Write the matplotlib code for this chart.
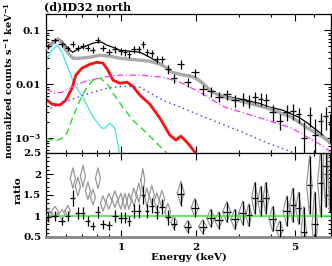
import numpy as np
import matplotlib
matplotlib.use("Agg")
import matplotlib.pyplot as plt
from matplotlib.ticker import FixedLocator, FixedFormatter, LogLocator, MultipleLocator, NullFormatter, FuncFormatter

plt.rcParams['font.family'] = ['DejaVu Serif']
plt.rcParams['font.weight'] = 'bold'
plt.rcParams['mathtext.fontset'] = 'dejavuserif'
plt.rcParams['mathtext.default'] = 'bf'

# data bins (keV), flux, fractional error, ratios
energy = [0.509, 0.543, 0.580, 0.612, 0.641, 0.672, 0.704, 0.737, 0.772, 0.809,
          0.847, 0.895, 0.946, 1.000, 1.038, 1.077, 1.128, 1.181, 1.226, 1.271,
          1.332, 1.395, 1.461, 1.545, 1.633, 1.742, 1.858, 1.982, 2.134, 2.298,
          2.475, 2.666, 2.871, 3.090, 3.266, 3.453, 3.650, 3.822, 4.076, 4.350,
          4.645, 4.907, 5.186, 5.431, 5.741, 6.012, 6.357, 6.656, 6.906]
flux = [0.0506, 0.0653, 0.0551, 0.0464, 0.0560, 0.0475, 0.0520, 0.0464, 0.0437, 0.0655,
        0.0470, 0.0400, 0.0445, 0.0409, 0.0392, 0.0360, 0.0445, 0.0445, 0.0560, 0.0392,
        0.0375, 0.0290, 0.0290, 0.0190, 0.0129, 0.0235, 0.0109, 0.0165, 0.00808, 0.0074,
        0.0059, 0.0065, 0.00506, 0.0054, 0.0049, 0.0057, 0.0054, 0.0052, 0.0031, 0.0021,
        0.0031, 0.0032, 0.0028, 0.0010, 0.0027, 0.00114, 0.00205, 0.0026, 0.0018]
frac = [0.12, 0.12, 0.12, 0.12, 0.13, 0.13, 0.13, 0.13, 0.13, 0.13,
        0.14, 0.14, 0.14, 0.14, 0.14, 0.14, 0.15, 0.15, 0.15, 0.15,
        0.15, 0.15, 0.15, 0.18, 0.18, 0.18, 0.18, 0.18, 0.22, 0.22,
        0.22, 0.22, 0.26, 0.26, 0.26, 0.26, 0.26, 0.26, 0.32, 0.32,
        0.32, 0.32, 0.32, 0.97, 0.40, 0.97, 0.45, 0.45, 0.55]
ratio_black = [0.97, 1.00, 0.88, 1.00, 1.43, 1.07, 1.07, 0.88, 0.76, 1.10,
               0.80, 0.78, 1.00, 0.96, 0.96, 0.88, 1.12, 1.12, 1.50, 1.12,
               1.25, 1.10, 1.22, 0.97, 0.80, 1.52, 0.74, 1.20, 0.74, 0.95,
               0.90, 1.10, 0.92, 1.07, 1.02, 1.43, 1.36, 1.43, 0.93, 0.67,
               1.12, 1.26, 1.19, 0.62, 1.74, 0.80, 1.79, 2.20, 2.45]
ratio_grey = [1.05, 1.10, 1.03, 1.12, 1.90, 1.70, 1.95, 1.60, 1.45, 1.90,
              1.30, 1.35, 1.40, 1.35, 1.35, 1.35, 1.45, 1.55, 1.85, 1.45,
              1.50, 1.35, 1.40, 1.10, 0.85, 1.55, 0.76, 1.20, 0.75, 0.95,
              0.90, 1.10, 0.92, 1.07, 1.02, 1.43, 1.36, 1.43, 0.93, 0.67,
              1.12, 1.26, 1.19, 0.62, 1.74, 0.80, 1.79, 2.20, 2.45]

# model curves
e_black = [0.5, 0.519, 0.543, 0.558, 0.580, 0.601, 0.624, 0.641, 0.672, 0.704, 0.737, 0.772,
           0.809, 0.839, 0.879, 0.929, 0.991, 1.087, 1.192, 1.307, 1.435, 1.516, 1.603, 1.726,
           1.892, 2.0, 2.134, 2.256, 2.385, 2.521, 2.898, 3.297, 3.583, 3.965, 4.474, 4.862,
           5.186, 5.637, 5.902, 6.476, 6.97]
m_black = [0.0484, 0.0551, 0.0653, 0.071, 0.0626, 0.0506, 0.0427, 0.0392, 0.0445, 0.0484, 0.0528, 0.0574,
           0.060, 0.060, 0.0528, 0.0484, 0.0427, 0.0409, 0.0392, 0.0316, 0.0245, 0.0206, 0.0167, 0.0153,
           0.0147, 0.0135, 0.0109, 0.00843, 0.00681, 0.00626, 0.00551, 0.00484, 0.00445, 0.00375, 0.0033, 0.00278,
           0.00245, 0.0019, 0.0016, 0.00115, 0.000808]
e_grey = [0.5, 0.519, 0.543, 0.558, 0.580, 0.601, 0.624, 0.641, 0.685, 0.751, 0.824, 0.903,
          0.991, 1.087, 1.192, 1.307, 1.435, 1.516, 1.603, 1.726, 1.892, 2.0, 2.134, 2.256,
          2.385, 2.616, 3.147, 3.893, 4.862, 5.637, 6.596, 6.97]
m_grey = [0.0464, 0.0506, 0.0626, 0.0681, 0.0574, 0.0427, 0.0344, 0.0303, 0.0303, 0.0316, 0.0344, 0.0330,
          0.0303, 0.0290, 0.0278, 0.0267, 0.0235, 0.0206, 0.0167, 0.0153, 0.0141, 0.0129, 0.0104, 0.00808,
          0.00681, 0.00574, 0.00464, 0.0036, 0.00245, 0.00153, 0.0010, 0.000808]
e_cyan = [0.5, 0.528, 0.553, 0.580, 0.607, 0.641, 0.672, 0.704, 0.772, 0.839, 0.863, 0.903, 0.946, 0.991]
m_cyan = [0.0278, 0.0427, 0.0528, 0.0392, 0.0225, 0.0119, 0.00774, 0.00574, 0.00245, 0.00153, 0.00153,
          0.0019, 0.00153, 0.000487]
e_red = [0.5, 0.528, 0.569, 0.601, 0.636, 0.659, 0.697, 0.751, 0.801, 0.847, 0.887, 0.929, 0.991,
         1.057, 1.117, 1.192, 1.307, 1.435, 1.573, 1.663, 1.742, 1.858, 2.0, 2.075]
m_red = [0.00528, 0.00427, 0.00409, 0.00506, 0.00843, 0.0147, 0.0198, 0.0234, 0.0255, 0.0245, 0.0182,
         0.0119, 0.0104, 0.0109, 0.00918, 0.00626, 0.00427, 0.00235, 0.00114, 0.000918, 0.00109,
         0.000808, 0.000528, 0.000392]
e_mag = [0.5, 0.543, 0.580, 0.624, 0.685, 0.751, 0.824, 0.903, 1.0, 1.087, 1.192, 1.475, 1.726,
         2.075, 2.341, 2.616, 3.147, 3.893, 4.862, 5.637, 6.596, 6.97]
m_mag = [0.00808, 0.00681, 0.00711, 0.00843, 0.0104, 0.0119, 0.0129, 0.0141, 0.0147, 0.0147, 0.0147,
         0.0135, 0.0109, 0.00711, 0.00506, 0.00375, 0.0029, 0.00215, 0.00153, 0.00104, 0.000681, 0.000551]
e_blue = [0.5, 0.580, 0.704, 0.879, 1.019, 1.192, 1.475, 1.774, 2.075, 2.616, 3.147, 3.893, 5.0, 5.3]
m_blue = [0.0033, 0.00445, 0.00626, 0.00843, 0.00918, 0.0088, 0.00506, 0.0036, 0.00267, 0.00174,
          0.00124, 0.000808, 0.000528, 0.00045]
e_green = [0.5, 0.543, 0.580, 0.607, 0.641, 0.685, 0.730, 0.772, 0.824, 0.879, 0.929, 1.019, 1.117,
           1.271, 1.395, 1.530, 1.603]
m_green = [0.001, 0.00088, 0.001, 0.00124, 0.00245, 0.00506, 0.0088, 0.0119, 0.0129, 0.0104, 0.00681,
           0.00375, 0.00215, 0.00124, 0.000808, 0.000528, 0.000392]

E = np.array(energy)
F = np.array(flux)
fr = np.array(frac)
lg = np.log10(E)
mid = 10 ** ((lg[1:] + lg[:-1]) / 2)
lo_edge = np.concatenate([[10 ** (lg[0] - (lg[1] - lg[0]) / 2)], mid])
hi_edge = np.concatenate([mid, [10 ** (lg[-1] + (lg[-1] - lg[-2]) / 2)]])
xerr = [E - lo_edge, hi_edge - E]

fig = plt.figure(figsize=(3.32, 2.66), dpi=100)
ax1 = fig.add_axes([46/332, 1-153/266, 285/332, 139/266])
ax2 = fig.add_axes([46/332, 1-237/266, 285/332, 84/266])

ax1.plot(e_black, m_black, color='black', lw=0.9, zorder=3)
ax1.plot(e_grey, m_grey, color='#aaaaaa', lw=2.4, zorder=4)
ax1.plot(e_cyan, m_cyan, color='#44ddee', lw=0.9, zorder=2)
ax1.plot(e_red, m_red, color='#ff1010', lw=2.0, zorder=2)
ax1.plot(e_mag, m_mag, color='#ff33ff', lw=0.9, ls=(0, (5, 2, 1, 2)), zorder=2)
ax1.plot(e_blue, m_blue, color='#3333ff', lw=1.0, ls=(0, (1, 2.5)), zorder=2)
ax1.plot(e_green, m_green, color='#22dd22', lw=1.0, ls=(0, (5, 3)), zorder=2)
ylo = F * np.minimum(fr, 0.97)
ax1.errorbar(E, F, yerr=[ylo, F * fr], xerr=xerr, fmt='none', ecolor='black', elinewidth=0.9,
             capsize=0, zorder=5)
ax1.set_xscale('log')
ax1.set_yscale('log')
ax1.set_xlim(0.5, 7.0)
ax1.set_ylim(5.3e-4, 0.2)

rb = np.array(ratio_black)
rg = np.array(ratio_grey)
for i in range(len(E)):
    eg = rg[i] * fr[i]
    ax2.plot([lo_edge[i], E[i], hi_edge[i], E[i], lo_edge[i]],
             [rg[i], rg[i] + eg, rg[i], rg[i] - eg, rg[i]], color='#999999', lw=0.9, zorder=2)
ax2.axhline(1.0, color='#44ee44', lw=1.2, zorder=3)
ax2.errorbar(E, rb, yerr=[rb * np.minimum(fr, 0.97), rb * fr], xerr=xerr, fmt='none',
             ecolor='black', elinewidth=0.9, capsize=0, zorder=4)
ax2.set_xscale('log')
ax2.set_xlim(0.5, 7.0)
ax2.set_ylim(0.5, 2.5)
ax2.spines['bottom'].set_color('#888888')
ax2.spines['bottom'].set_linewidth(2.0)

for ax in (ax1, ax2):
    ax.xaxis.set_major_locator(FixedLocator([1, 2, 5]))
    ax.xaxis.set_minor_locator(FixedLocator([0.6, 0.7, 0.8, 0.9, 3, 4, 6, 7]))
    ax.xaxis.set_minor_formatter(NullFormatter())
    ax.tick_params(which='both', direction='in', top=True, right=True, labelsize=7.5, width=0.8)
    ax.tick_params(which='major', length=5)
    ax.tick_params(which='minor', length=2.5)
    for s in ('top', 'left', 'right'):
        ax.spines[s].set_linewidth(0.9)

ax1.tick_params(labelbottom=False)
ax1.yaxis.set_major_locator(LogLocator(base=10))
ax1.yaxis.set_minor_locator(LogLocator(base=10, subs=np.arange(2, 10)))
ax1.yaxis.set_minor_formatter(NullFormatter())
ax1.yaxis.set_major_formatter(FuncFormatter(
    lambda v, p: {0.1: '0.1', 0.01: '0.01'}.get(round(v, 6), r'$10^{-3}$' if abs(v - 1e-3) < 1e-9 else '')))

ax2.xaxis.set_major_formatter(FixedFormatter(['1', '2', '5']))
ax2.yaxis.set_major_locator(MultipleLocator(0.5))
ax2.yaxis.set_minor_locator(MultipleLocator(0.1))
ax2.yaxis.set_major_formatter(FuncFormatter(lambda v, p: f'{v:g}'))
ax2.tick_params(axis='x', pad=4)

fig.text(44/332, 1-7/266, '(d)ID32 north', fontsize=8, ha='left', va='center')
fig.text(9/332, 1-81/266, r'normalized counts s$^{-1}$ keV$^{-1}$', fontsize=7, rotation=90,
         ha='center', va='center')
fig.text(18/332, 1-190/266, 'ratio', fontsize=7.5, rotation=90, ha='center', va='center')
fig.text(189/332, 1-257/266, 'Energy (keV)', fontsize=7.5, ha='center', va='center')

fig.savefig('out.png', dpi=100)
